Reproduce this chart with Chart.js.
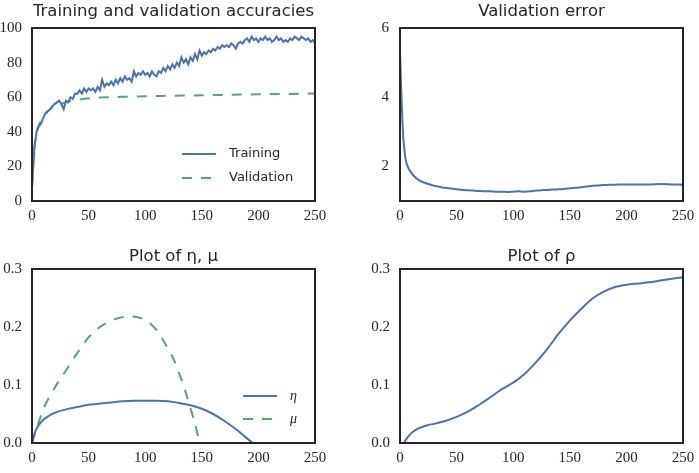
<!DOCTYPE html>
<html><head><meta charset="utf-8">
<script src="https://cdn.jsdelivr.net/npm/chart.js@4.4.0/dist/chart.umd.min.js"></script>
<style>
html,body{margin:0;padding:0;background:#fff;}
#wrap{position:relative;width:699px;height:473px;overflow:hidden;background:#fff;}
canvas{position:absolute;}
</style></head><body>
<div id="wrap">
<canvas id="c1" width="349" height="236" style="left:0;top:0"></canvas>
<canvas id="c2" width="350" height="236" style="left:349px;top:0"></canvas>
<canvas id="c3" width="349" height="237" style="left:0;top:236px"></canvas>
<canvas id="c4" width="350" height="237" style="left:349px;top:236px"></canvas>
</div>
<script>
// ---------- DATA ----------
const titles = ['Training and validation accuracies', 'Validation error', 'Plot of η, μ', 'Plot of ρ'];
const xTickValues = [0, 50, 100, 150, 200, 250];
const accTicks = [0, 20, 40, 60, 80, 100];
const errTicks = [2, 4, 6];
const paramTicks = [0.0, 0.1, 0.2, 0.3];

const trainEpochs = [0,2,4,6,8,10,12,14,16,18,20,22,24,26,28,30,32,34,36,38,40,42,44,46,48,50,52,54,56,58,60,62,64,66,68,70,72,74,76,78,80,82,84,86,88,90,92,94,96,98,100,102,104,106,108,110,112,114,116,118,120,122,124,126,128,130,132,134,136,138,140,142,144,146,148,150,152,154,156,158,160,162,164,166,168,170,172,174,176,178,180,182,184,186,188,190,192,194,196,198,200,202,204,206,208,210,212,214,216,218,220,222,224,226,228,230,232,234,236,238,240,242,244,246,248,250];
const trainAcc = [8,30,40,43,45,48,51,52,53,55,
  56,57,58,56,53,58,57,60,59,62,
  62,64,62,65,63,65,64,65,63,66,
  64,70,66,68,67,69,67,70,68,71,
  69,72,70,71,69,75,72,74,73,75,
  73,74,72,75,73,72,75,74,77,75,
  78,76,79,77,80,78,83,80,82,79,
  83,81,85,82,87,84,86,85,87,86,
  88,87,89,88,90,89,90,89,91,90,
  88,91,92,91,93,94,92,95,93,94,
  92,94,93,95,93,94,92,93,95,93,
  94,92,93,92,94,93,95,94,93,95,
  94,93,94,92,93,91];

const valEpochs = [0,1,2,3,4,6,8,10,13,16,20,25,30,35,40,45,50,60,70,80,90,100,110,120,135,150,175,200,225,250];
const valAcc = [8,20,30,36,40,44,46,48,51,53,55,56,57,58,58.5,59,59.3,59.8,60,60.2,60.4,60.6,60.7,60.8,61,61.1,61.4,61.7,61.9,62.1];

const errEpochs = [0,1,2,3,4,5,7,10,13,16,20,25,30,35,40,45,50,55,60,65,70,75,80,85,90,95,100,105,110,115,120,125,130,135,140,145,150,155,160,165,170,175,180,185,190,195,200,210,220,230,240,250];
const valErr = [5.3,4.3,3.4,2.8,2.45,2.2,1.98,1.82,1.7,1.62,1.55,1.49,1.44,1.41,1.38,1.36,1.34,1.32,1.31,1.3,1.29,1.28,1.28,1.27,1.27,1.26,1.27,1.28,1.27,1.28,1.3,1.31,1.32,1.33,1.34,1.35,1.37,1.38,1.4,1.42,1.44,1.45,1.46,1.47,1.47,1.48,1.48,1.48,1.48,1.49,1.48,1.47];

const etaEpochs = [0,2,5,10,15,20,30,40,50,60,70,80,90,100,110,120,130,140,150,160,170,180,188,195];
const etaVals = [0,0.015,0.028,0.04,0.047,0.052,0.058,0.062,0.066,0.068,0.07,0.072,0.073,0.073,0.073,0.072,0.069,0.065,0.059,0.05,0.038,0.024,0.011,0];

const muEpochs = [0,5,10,20,30,40,50,60,70,80,88,95,100,105,110,115,120,125,130,135,140,145,148];
const muVals = [0,0.03,0.058,0.095,0.125,0.155,0.182,0.2,0.211,0.217,0.218,0.216,0.213,0.205,0.195,0.18,0.163,0.145,0.12,0.092,0.06,0.025,0];

const rhoEpochs = [0,3,6,10,15,20,25,30,40,50,60,70,80,90,100,110,120,130,140,150,160,170,180,190,200,210,220,230,240,250];
const rhoVals = [0,0,0.008,0.017,0.024,0.028,0.031,0.033,0.038,0.045,0.054,0.066,0.079,0.093,0.104,0.119,0.139,0.162,0.188,0.211,0.231,0.249,0.261,0.269,0.273,0.275,0.277,0.28,0.283,0.286];

// ---------- STYLE ----------
const BLUE = '#4C72B0', GREEN = '#55A868', INK = '#262626';
const TICK_FONT = {family: 'Liberation Serif', size: 15};
const TITLE_FONT = {family: 'DejaVu Sans', size: 16.5, weight: 'normal'};

const pts = (xs, ys) => xs.map((x, i) => ({x: x, y: ys[i]}));

const framePlugin = {
  id: 'frame',
  afterDatasetsDraw(chart) {
    const {ctx, chartArea: a} = chart;
    ctx.save();
    ctx.strokeStyle = INK; ctx.lineWidth = 2;
    ctx.strokeRect(a.left, a.top, a.right - a.left, a.bottom - a.top);
    ctx.restore();
  }
};
const innerLegend = {
  id: 'innerLegend',
  afterDraw(chart, args, o) {
    if (!o || !o.show) return;
    const {ctx, chartArea: a} = chart;
    ctx.save();
    chart.data.datasets.forEach((ds, i) => {
      const y = a.top + o.y + i * o.rowGap;
      const x0 = a.left + o.x;
      ctx.strokeStyle = ds.borderColor; ctx.lineWidth = ds.borderWidth;
      ctx.setLineDash(ds.borderDash || []);
      ctx.beginPath(); ctx.moveTo(x0, y); ctx.lineTo(x0 + o.handle, y); ctx.stroke();
      ctx.setLineDash([]);
      ctx.fillStyle = INK; ctx.font = o.font;
      ctx.textBaseline = 'middle'; ctx.textAlign = 'left';
      ctx.fillText(ds.label, x0 + o.handle + o.gap, y);
    });
    ctx.restore();
  }
};

function makeScales(yMin, yMax, yTicks, yFmt, xH, yW, yPad) {
  return {
    x: {
      type: 'linear', min: 0, max: 250,
      afterBuildTicks: s => { s.ticks = xTickValues.map(v => ({value: v})); },
      afterFit: s => { s.height = xH; s.paddingLeft = 0; s.paddingRight = 0; },
      grid: {display: false, drawTicks: false}, border: {display: false},
      ticks: {padding: 6, color: INK, font: TICK_FONT, maxRotation: 0, autoSkip: false,
              callback: v => String(v)}
    },
    y: {
      type: 'linear', min: yMin, max: yMax,
      afterBuildTicks: s => { s.ticks = yTicks.map(v => ({value: v})); },
      afterFit: s => { s.width = yW; s.paddingTop = 0; s.paddingBottom = 0; },
      grid: {display: false, drawTicks: false}, border: {display: false},
      ticks: {padding: yPad, color: INK, font: TICK_FONT, autoSkip: false, callback: yFmt}
    }
  };
}

function makeChart(id, title, datasets, scales, pad, titlePad, legendOpts) {
  return new Chart(document.getElementById(id), {
    type: 'line',
    data: {datasets: datasets},
    plugins: [framePlugin, innerLegend],
    options: {
      responsive: false, animation: false, devicePixelRatio: 1, events: [],
      layout: {padding: pad},
      scales: scales,
      plugins: {
        legend: {display: false}, tooltip: {enabled: false},
        title: {display: true, fullSize: false, text: title, color: INK, font: TITLE_FONT, padding: titlePad},
        innerLegend: legendOpts || {show: false}
      }
    }
  });
}

const lineDs = (label, data, color, extra) => Object.assign({
  label: label, data: data, borderColor: color, backgroundColor: color,
  borderWidth: 2, pointRadius: 0, fill: false, tension: 0
}, extra || {});

const intFmt = v => String(v);
const oneDec = v => Number(v).toFixed(1);

makeChart('c1', titles[0], [
  lineDs('Training', pts(trainEpochs, trainAcc), BLUE),
  lineDs('Validation', pts(valEpochs, valAcc), GREEN, {borderDash: [10, 9], cubicInterpolationMode: 'monotone'})
], makeScales(0, 100, accTicks, intFmt, 35, 32, 10),
  {left: 0, right: 34, top: 0, bottom: 0}, {top: 2, bottom: 6.2},
  {show: true, x: 150, y: 126, rowGap: 24, handle: 34, gap: 13, font: '13px "DejaVu Sans"'});

makeChart('c2', titles[1], [
  lineDs('Validation error', pts(errEpochs, valErr), BLUE, {cubicInterpolationMode: 'monotone'})
], makeScales(1, 6, errTicks, intFmt, 35, 51, 11),
  {left: 0, right: 16, top: 0, bottom: 0}, {top: 2, bottom: 6.2});

makeChart('c3', titles[2], [
  lineDs('η', pts(etaEpochs, etaVals), BLUE, {cubicInterpolationMode: 'monotone'}),
  lineDs('μ', pts(muEpochs, muVals), GREEN, {borderDash: [10, 9], cubicInterpolationMode: 'monotone'})
], makeScales(0, 0.3, paramTicks, oneDec, 30, 32, 10),
  {left: 0, right: 34, top: 0, bottom: 0}, {top: 10.6, bottom: 2.6},
  {show: true, x: 211, y: 127, rowGap: 23, handle: 34, gap: 13, font: 'italic 14px "Liberation Serif"'});

makeChart('c4', titles[3], [
  lineDs('ρ', pts(rhoEpochs, rhoVals), BLUE, {cubicInterpolationMode: 'monotone'})
], makeScales(0, 0.3, paramTicks, oneDec, 30, 51, 10),
  {left: 0, right: 16, top: 0, bottom: 0}, {top: 10.6, bottom: 2.6});
</script>
</body></html>
